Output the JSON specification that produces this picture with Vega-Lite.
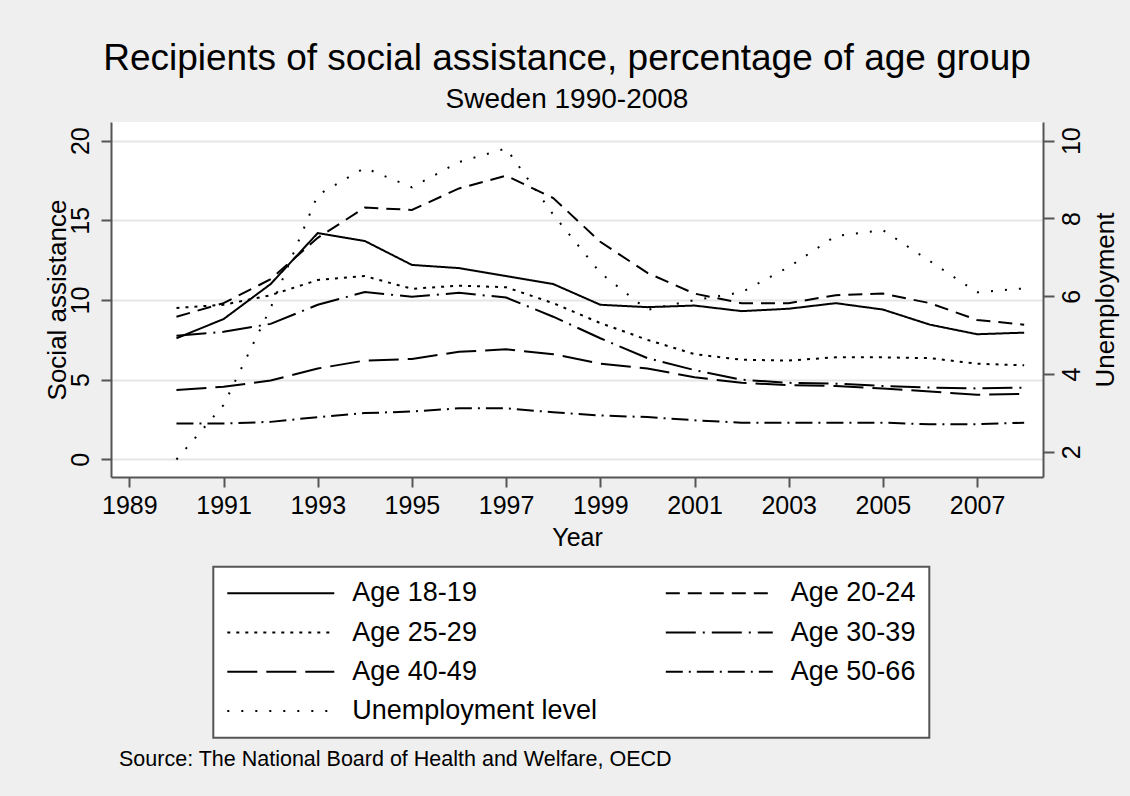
{
  "$schema": "https://vega.github.io/schema/vega-lite/v6.json",
  "width": 932,
  "height": 355,
  "autosize": {"type": "none"},
  "padding": {"left": 111, "top": 122, "right": 87, "bottom": 319},
  "background": "#efefef",
  "config": {
    "view": {"fill": "white", "stroke": null},
    "font": "Liberation Sans",
    "legend": {"strokeWidth": 2}
  },
  "title": {
    "text": "Recipients of social assistance, percentage of age group",
    "subtitle": "Sweden 1990-2008",
    "font": "Liberation Sans",
    "subtitleFont": "Liberation Sans",
    "fontSize": 37,
    "subtitleFontSize": 28,
    "fontWeight": "normal",
    "color": "black",
    "subtitleColor": "black",
    "anchor": "middle",
    "offset": 7,
    "subtitlePadding": 8,
    "dx": -10
  },
  "datasets": {
    "ages": [
      {"year": 1990, "series": "Age 18-19", "value": 7.6},
      {"year": 1991, "series": "Age 18-19", "value": 8.8},
      {"year": 1992, "series": "Age 18-19", "value": 11.0},
      {"year": 1993, "series": "Age 18-19", "value": 14.2},
      {"year": 1994, "series": "Age 18-19", "value": 13.7},
      {"year": 1995, "series": "Age 18-19", "value": 12.2},
      {"year": 1996, "series": "Age 18-19", "value": 12.0},
      {"year": 1997, "series": "Age 18-19", "value": 11.5},
      {"year": 1998, "series": "Age 18-19", "value": 11.0},
      {"year": 1999, "series": "Age 18-19", "value": 9.7},
      {"year": 2000, "series": "Age 18-19", "value": 9.55},
      {"year": 2001, "series": "Age 18-19", "value": 9.65},
      {"year": 2002, "series": "Age 18-19", "value": 9.3},
      {"year": 2003, "series": "Age 18-19", "value": 9.45},
      {"year": 2004, "series": "Age 18-19", "value": 9.8},
      {"year": 2005, "series": "Age 18-19", "value": 9.4},
      {"year": 2006, "series": "Age 18-19", "value": 8.45},
      {"year": 2007, "series": "Age 18-19", "value": 7.85},
      {"year": 2008, "series": "Age 18-19", "value": 7.95},
      {"year": 1990, "series": "Age 20-24", "value": 8.95},
      {"year": 1991, "series": "Age 20-24", "value": 9.8},
      {"year": 1992, "series": "Age 20-24", "value": 11.3},
      {"year": 1993, "series": "Age 20-24", "value": 13.9},
      {"year": 1994, "series": "Age 20-24", "value": 15.8},
      {"year": 1995, "series": "Age 20-24", "value": 15.65},
      {"year": 1996, "series": "Age 20-24", "value": 17.0},
      {"year": 1997, "series": "Age 20-24", "value": 17.8},
      {"year": 1998, "series": "Age 20-24", "value": 16.4},
      {"year": 1999, "series": "Age 20-24", "value": 13.65},
      {"year": 2000, "series": "Age 20-24", "value": 11.7},
      {"year": 2001, "series": "Age 20-24", "value": 10.4},
      {"year": 2002, "series": "Age 20-24", "value": 9.8},
      {"year": 2003, "series": "Age 20-24", "value": 9.8},
      {"year": 2004, "series": "Age 20-24", "value": 10.3},
      {"year": 2005, "series": "Age 20-24", "value": 10.4},
      {"year": 2006, "series": "Age 20-24", "value": 9.8},
      {"year": 2007, "series": "Age 20-24", "value": 8.75},
      {"year": 2008, "series": "Age 20-24", "value": 8.45},
      {"year": 1990, "series": "Age 25-29", "value": 9.5},
      {"year": 1991, "series": "Age 25-29", "value": 9.7},
      {"year": 1992, "series": "Age 25-29", "value": 10.3},
      {"year": 1993, "series": "Age 25-29", "value": 11.25},
      {"year": 1994, "series": "Age 25-29", "value": 11.5},
      {"year": 1995, "series": "Age 25-29", "value": 10.7},
      {"year": 1996, "series": "Age 25-29", "value": 10.9},
      {"year": 1997, "series": "Age 25-29", "value": 10.8},
      {"year": 1998, "series": "Age 25-29", "value": 9.8},
      {"year": 1999, "series": "Age 25-29", "value": 8.55},
      {"year": 2000, "series": "Age 25-29", "value": 7.5},
      {"year": 2001, "series": "Age 25-29", "value": 6.6},
      {"year": 2002, "series": "Age 25-29", "value": 6.25},
      {"year": 2003, "series": "Age 25-29", "value": 6.2},
      {"year": 2004, "series": "Age 25-29", "value": 6.4},
      {"year": 2005, "series": "Age 25-29", "value": 6.4},
      {"year": 2006, "series": "Age 25-29", "value": 6.35},
      {"year": 2007, "series": "Age 25-29", "value": 6.0},
      {"year": 2008, "series": "Age 25-29", "value": 5.9},
      {"year": 1990, "series": "Age 30-39", "value": 7.75},
      {"year": 1991, "series": "Age 30-39", "value": 8.0},
      {"year": 1992, "series": "Age 30-39", "value": 8.5},
      {"year": 1993, "series": "Age 30-39", "value": 9.7},
      {"year": 1994, "series": "Age 30-39", "value": 10.5},
      {"year": 1995, "series": "Age 30-39", "value": 10.2},
      {"year": 1996, "series": "Age 30-39", "value": 10.45},
      {"year": 1997, "series": "Age 30-39", "value": 10.15},
      {"year": 1998, "series": "Age 30-39", "value": 8.95},
      {"year": 1999, "series": "Age 30-39", "value": 7.6},
      {"year": 2000, "series": "Age 30-39", "value": 6.35},
      {"year": 2001, "series": "Age 30-39", "value": 5.6},
      {"year": 2002, "series": "Age 30-39", "value": 5.0},
      {"year": 2003, "series": "Age 30-39", "value": 4.8},
      {"year": 2004, "series": "Age 30-39", "value": 4.75},
      {"year": 2005, "series": "Age 30-39", "value": 4.6},
      {"year": 2006, "series": "Age 30-39", "value": 4.5},
      {"year": 2007, "series": "Age 30-39", "value": 4.45},
      {"year": 2008, "series": "Age 30-39", "value": 4.5},
      {"year": 1990, "series": "Age 40-49", "value": 4.35},
      {"year": 1991, "series": "Age 40-49", "value": 4.55},
      {"year": 1992, "series": "Age 40-49", "value": 4.95},
      {"year": 1993, "series": "Age 40-49", "value": 5.7},
      {"year": 1994, "series": "Age 40-49", "value": 6.2},
      {"year": 1995, "series": "Age 40-49", "value": 6.3},
      {"year": 1996, "series": "Age 40-49", "value": 6.75},
      {"year": 1997, "series": "Age 40-49", "value": 6.9},
      {"year": 1998, "series": "Age 40-49", "value": 6.6},
      {"year": 1999, "series": "Age 40-49", "value": 6.0},
      {"year": 2000, "series": "Age 40-49", "value": 5.7},
      {"year": 2001, "series": "Age 40-49", "value": 5.15},
      {"year": 2002, "series": "Age 40-49", "value": 4.8},
      {"year": 2003, "series": "Age 40-49", "value": 4.65},
      {"year": 2004, "series": "Age 40-49", "value": 4.6},
      {"year": 2005, "series": "Age 40-49", "value": 4.45},
      {"year": 2006, "series": "Age 40-49", "value": 4.25},
      {"year": 2007, "series": "Age 40-49", "value": 4.05},
      {"year": 2008, "series": "Age 40-49", "value": 4.1},
      {"year": 1990, "series": "Age 50-66", "value": 2.25},
      {"year": 1991, "series": "Age 50-66", "value": 2.25},
      {"year": 1992, "series": "Age 50-66", "value": 2.35},
      {"year": 1993, "series": "Age 50-66", "value": 2.65},
      {"year": 1994, "series": "Age 50-66", "value": 2.9},
      {"year": 1995, "series": "Age 50-66", "value": 3.0},
      {"year": 1996, "series": "Age 50-66", "value": 3.2},
      {"year": 1997, "series": "Age 50-66", "value": 3.2},
      {"year": 1998, "series": "Age 50-66", "value": 2.95},
      {"year": 1999, "series": "Age 50-66", "value": 2.75},
      {"year": 2000, "series": "Age 50-66", "value": 2.65},
      {"year": 2001, "series": "Age 50-66", "value": 2.45},
      {"year": 2002, "series": "Age 50-66", "value": 2.3},
      {"year": 2003, "series": "Age 50-66", "value": 2.3},
      {"year": 2004, "series": "Age 50-66", "value": 2.3},
      {"year": 2005, "series": "Age 50-66", "value": 2.3},
      {"year": 2006, "series": "Age 50-66", "value": 2.2},
      {"year": 2007, "series": "Age 50-66", "value": 2.2},
      {"year": 2008, "series": "Age 50-66", "value": 2.3}
    ],
    "unemp": [
      {"year": 1990, "series": "Unemployment level", "value": 1.8},
      {"year": 1991, "series": "Unemployment level", "value": 3.2},
      {"year": 1992, "series": "Unemployment level", "value": 5.7},
      {"year": 1993, "series": "Unemployment level", "value": 8.6},
      {"year": 1994, "series": "Unemployment level", "value": 9.3},
      {"year": 1995, "series": "Unemployment level", "value": 8.8},
      {"year": 1996, "series": "Unemployment level", "value": 9.45},
      {"year": 1997, "series": "Unemployment level", "value": 9.8},
      {"year": 1998, "series": "Unemployment level", "value": 8.1},
      {"year": 1999, "series": "Unemployment level", "value": 6.6},
      {"year": 2000, "series": "Unemployment level", "value": 5.65},
      {"year": 2001, "series": "Unemployment level", "value": 5.9},
      {"year": 2002, "series": "Unemployment level", "value": 6.1},
      {"year": 2003, "series": "Unemployment level", "value": 6.75},
      {"year": 2004, "series": "Unemployment level", "value": 7.55},
      {"year": 2005, "series": "Unemployment level", "value": 7.7},
      {"year": 2006, "series": "Unemployment level", "value": 6.9},
      {"year": 2007, "series": "Unemployment level", "value": 6.1},
      {"year": 2008, "series": "Unemployment level", "value": 6.2}
    ],
    "note": [
      {"note": "Source: The National Board of Health and Welfare, OECD"}
    ]
  },
  "layer": [
    {
      "layer": [
        {
          "data": {"name": "ages"},
          "mark": {"type": "line", "strokeWidth": 2, "color": "black", "strokeCap": "butt"},
          "encoding": {
            "x": {
              "field": "year", "type": "quantitative",
              "scale": {"domain": [1988.61, 2008.4], "nice": false, "zero": false},
              "axis": {
                "values": [1989, 1991, 1993, 1995, 1997, 1999, 2001, 2003, 2005, 2007],
                "format": "d", "title": "Year", "grid": false,
                "labelFontSize": 25, "labelColor": "black", "labelBaseline": "alphabetic", "labelPadding": 26,
                "labelFlush": false, "labelOverlap": false,
                "tickSize": 10, "tickColor": "#555555", "tickWidth": 2,
                "domainColor": "#555555", "domainWidth": 2,
                "titleFontSize": 25, "titleFontWeight": "normal", "titleColor": "black",
                "titleBaseline": "alphabetic", "titleY": 68
              }
            },
            "y": {
              "field": "value", "type": "quantitative",
              "scale": {"domain": [-1.11, 21.17], "nice": false, "zero": false},
              "axis": {
                "values": [0, 5, 10, 15, 20], "title": "Social assistance",
                "grid": true, "gridColor": "#e6e6e6", "gridWidth": 2,
                "labelFontSize": 25, "labelColor": "black", "labelAngle": 270, "labelAlign": "center",
                "labelBaseline": "alphabetic", "labelPadding": 13, "labelFlush": false, "labelOverlap": false,
                "tickSize": 10, "tickColor": "#555555", "tickWidth": 2,
                "domainColor": "#555555", "domainWidth": 2,
                "titleFontSize": 26, "titleFontWeight": "normal", "titleColor": "black",
                "titleAngle": 270, "titleBaseline": "alphabetic", "titleAlign": "center",
                "titleX": -46, "titleY": 177.5
              }
            },
            "strokeDash": {
              "field": "series", "type": "nominal",
              "scale": {
                "domain": ["Age 18-19", "Age 25-29", "Age 40-49", "Unemployment level", "Age 20-24", "Age 30-39", "Age 50-66"],
                "range": [[1, 0], [3, 6], [30, 9], [2, 12], [14, 8], [30, 7, 2, 7], [17, 6, 2, 6]]
              },
              "legend": {
                "orient": "none", "legendX": 102.3, "legendY": 444.7, "title": null,
                "columns": 2, "symbolType": "stroke", "symbolSize": 11449,
                "symbolStrokeWidth": 2, "symbolStrokeColor": "black", "clipHeight": 27,
                "labelFontSize": 27, "labelColor": "black", "labelOffset": 17, "labelLimit": 500,
                "rowPadding": 11.3, "columnPadding": 67.5, "padding": 13,
                "strokeColor": "#555555", "fillColor": "white"
              }
            }
          }
        },
        {
          "data": {"name": "note"},
          "mark": {"type": "text", "align": "left", "baseline": "alphabetic", "fontSize": 21.5, "color": "black"},
          "encoding": {
            "x": {"datum": 1988.78, "scale": {"domain": [1988.61, 2008.4], "nice": false, "zero": false}},
            "y": {"datum": -19.23, "scale": {"domain": [-1.11, 21.17], "nice": false, "zero": false}},
            "text": {"field": "note"}
          }
        }
      ]
    },
    {
      "data": {"name": "unemp"},
      "mark": {"type": "line", "strokeWidth": 2, "color": "black", "strokeCap": "butt"},
      "encoding": {
        "x": {"field": "year", "type": "quantitative", "scale": {"domain": [1988.61, 2008.4], "nice": false, "zero": false}},
        "y": {
          "field": "value", "type": "quantitative",
          "scale": {"domain": [1.35, 10.48], "nice": false, "zero": false},
          "axis": {
            "orient": "right", "values": [2, 4, 6, 8, 10], "title": "Unemployment", "grid": false,
            "labelFontSize": 25, "labelColor": "black", "labelAngle": 270, "labelAlign": "center",
            "labelBaseline": "alphabetic", "labelPadding": 25.5, "labelFlush": false, "labelOverlap": false,
            "tickSize": 11, "tickColor": "#555555", "tickWidth": 2,
            "domainColor": "#555555", "domainWidth": 2,
            "titleFontSize": 26, "titleFontWeight": "normal", "titleColor": "black",
            "titleAngle": 270, "titleBaseline": "alphabetic", "titleAlign": "center",
            "titleX": 70.7, "titleY": 177.5
          }
        },
        "strokeDash": {
          "field": "series", "type": "nominal",
          "scale": {
            "domain": ["Age 18-19", "Age 25-29", "Age 40-49", "Unemployment level", "Age 20-24", "Age 30-39", "Age 50-66"],
            "range": [[1, 0], [3, 6], [30, 9], [2, 12], [14, 8], [30, 7, 2, 7], [17, 6, 2, 6]]
          }
        }
      }
    }
  ],
  "resolve": {"scale": {"y": "independent"}}
}
